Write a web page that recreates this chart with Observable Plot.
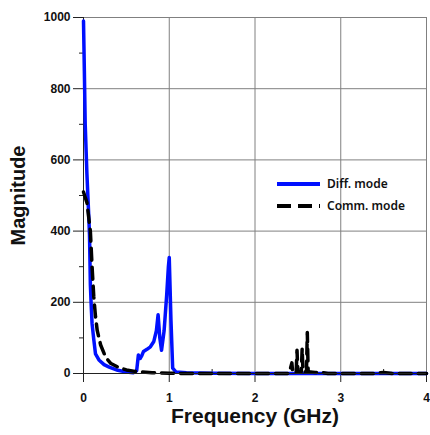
<!DOCTYPE html>
<html>
<head>
<meta charset="utf-8">
<script src="https://cdn.jsdelivr.net/npm/d3@7"></script>
<script src="https://cdn.jsdelivr.net/npm/@observablehq/plot@0.6"></script>
<style>
  html, body { margin: 0; padding: 0; background: #fff; }
  #chart { width: 430px; height: 435px; }
  #chart svg text { font-family: "Liberation Sans", Arial, sans-serif; }
  #chart svg g.legend text { font-family: "Noto Sans", sans-serif; }
</style>
</head>
<body>
<div id="chart"></div>
<script>
// Diff. mode (blue solid)
const freqDiff = [0, 0.01, 0.02, 0.04, 0.06, 0.07, 0.08, 0.09, 0.1, 0.12, 0.14, 0.18, 0.24, 0.3, 0.4, 0.5, 0.58, 0.62, 0.64, 0.66, 0.68, 0.7, 0.74, 0.78, 0.82, 0.85, 0.87, 0.89, 0.91, 0.94, 0.97, 0.99, 1.0, 1.02, 1.04, 1.08, 1.2, 1.5, 2, 2.5, 3, 3.5, 4];
const magDiff  = [990, 850, 700, 560, 450, 390, 250, 190, 140, 95, 55, 38, 25, 18, 9, 4, 2, 8, 52, 42, 50, 62, 68, 75, 90, 120, 165, 100, 65, 120, 220, 300, 326, 150, 15, 4, 2, 1, 0, 0, 0, 0, 0];

// Comm. mode (black dashed)
const freqComm = [0, 0.02, 0.04, 0.06, 0.08, 0.1, 0.12, 0.14, 0.16, 0.2, 0.26, 0.32, 0.41, 0.5, 0.6, 0.69, 0.8, 1, 1.2, 2.38, 2.4, 2.43, 2.44, 2.48, 2.49, 2.5, 2.54, 2.55, 2.56, 2.6, 2.61, 2.62, 2.7, 2.78, 2.85, 3.4, 3.5, 3.6, 4];
const magComm  = [510, 495, 480, 440, 400, 300, 215, 160, 121, 80, 45, 28, 17, 10, 6, 4, 2, 1, 0, 0, 2, 30, 2, 3, 65, 5, 5, 70, 5, 5, 115, 5, 3, 3, 0, 0, 3, 0, 0];

const xTicks = [0, 1, 2, 3, 4];
const xMinor = [0.5, 1.5, 2.5, 3.5];
const yTicks = [0, 200, 400, 600, 800, 1000];
const yMinor = [100, 300, 500, 700, 900];
const seriesNames = ["Diff. mode", "Comm. mode"];

const diff = freqDiff.map((f, i) => ({f, m: magDiff[i]}));
const comm = freqComm.map((f, i) => ({f, m: magComm[i]}));

const font = "Liberation Sans, Arial, sans-serif";
const fmt = d => String(d);

const plot = Plot.plot({
  width: 430,
  height: 435,
  marginLeft: 83,
  marginRight: 4,
  marginTop: 17,
  marginBottom: 62,
  style: {fontFamily: font, background: "#fff", overflow: "visible"},
  x: {domain: [0, 4]},
  y: {domain: [0, 1000]},
  marks: [
    Plot.ruleX([1, 2, 3, 4], {stroke: "#808080", strokeWidth: 1}),
    Plot.ruleY([200, 400, 600, 800, 1000], {stroke: "#808080", strokeWidth: 1}),
    Plot.ruleX([0], {stroke: "#222", strokeWidth: 1}),
    Plot.axisX({ticks: xTicks, tickFormat: fmt, tickSize: 9, tickPadding: 11, fontSize: 12, fontWeight: "bold", label: null, stroke: "#222", fill: "#111"}),
    Plot.axisX({ticks: xMinor, tickSize: -4, text: null, label: null, stroke: "#222"}),
    Plot.axisY({ticks: yTicks, tickFormat: fmt, tickSize: 10, tickPadding: 3, fontSize: 12, fontWeight: "bold", label: null, stroke: "#222", fill: "#111"}),
    Plot.axisY({ticks: yMinor, tickSize: 4, text: null, label: null, stroke: "#222"}),
    Plot.line(diff, {x: "f", y: "m", stroke: "#0010ff", strokeWidth: 3.5, curve: "linear"}),
    Plot.line(comm, {x: "f", y: "m", stroke: "#000", strokeWidth: 3.5, strokeDasharray: "12,7", curve: "linear"}),
    Plot.ruleY([0], {stroke: "#222", strokeWidth: 1}),
    Plot.text(["Frequency (GHz)"], {frameAnchor: "bottom", dy: 49, fontSize: 21, fontWeight: "bold", fill: "#111"}),
    Plot.text(["Magnitude"], {frameAnchor: "left", textAnchor: "middle", dx: -65, rotate: -90, fontSize: 20, fontWeight: "bold", fill: "#111"})
  ]
});

document.getElementById("chart").appendChild(plot);

// Legend inside plot area
const svg = d3.select(plot);
const lg = svg.append("g")
  .attr("class", "legend")
  .attr("font-size", 12)
  .attr("font-weight", 600)
  .attr("text-anchor", "start");
const items = [
  {name: seriesNames[0], color: "#0010ff", dash: null, y: 184},
  {name: seriesNames[1], color: "#000", dash: "14,7", y: 206}
];
items.forEach(it => {
  lg.append("line").attr("x1", 277).attr("x2", 320).attr("y1", it.y).attr("y2", it.y)
    .attr("stroke", it.color).attr("stroke-width", 4).attr("stroke-dasharray", it.dash);
  lg.append("text").attr("x", 327).attr("y", it.y).attr("dy", "0.35em")
    .attr("text-anchor", "start").attr("fill", "#111").text(it.name);
});
</script>
</body>
</html>
